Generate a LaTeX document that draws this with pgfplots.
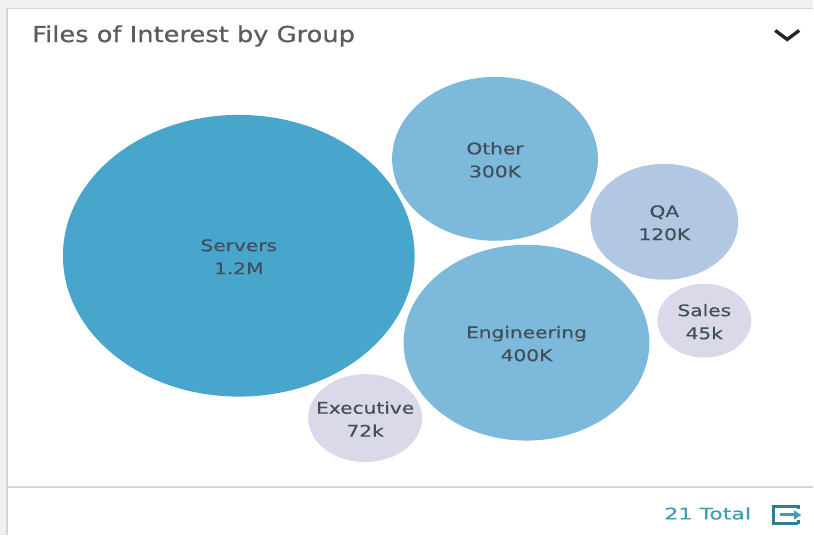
\documentclass[border=0pt]{standalone}
\usepackage{pgfplots}
\pgfplotsset{compat=1.18}
\usepackage{fontspec}
\setmainfont{DejaVu Sans}
\newfontfamily\wideface[FakeStretch=1.26,FakeBold=0.4]{DejaVu Sans}
\newfontfamily\footface[FakeStretch=1.38,FakeBold=0.4]{DejaVu Sans}
\newfontfamily\titleface[FakeStretch=1.17,FakeBold=0.55]{DejaVu Sans}
\definecolor{serversblue}{HTML}{48A5CC}
\definecolor{midblue}{HTML}{7CB9DA}
\definecolor{paleblue}{HTML}{B2C8E2}
\definecolor{lilac}{HTML}{DAD9EA}
\definecolor{labeltext}{HTML}{434E5C}
\definecolor{titletext}{HTML}{5A5C60}
\definecolor{teal}{HTML}{3D9DB5}
\definecolor{pagegrey}{HTML}{F1F1F1}
\definecolor{rulegrey}{HTML}{D4D4D4}
% an ellipse whose radii come from the current table row
\pgfdeclareplotmark{bubble}{%
  \pgfpathellipse{\pgfpointorigin}{\pgfqpoint{\rx pt}{0pt}}{\pgfqpoint{0pt}{\ry pt}}%
  \pgfusepathqfill}
\pgfplotsset{
  bubble/.style={
    only marks, mark=bubble, mark options={fill=#1, draw=none},
    point meta=explicit symbolic,
    visualization depends on={\thisrow{rx} \as \rx},
    visualization depends on={\thisrow{ry} \as \ry},
    nodes near coords,
    nodes near coords align={anchor=center},
    every node near coord/.append style={
      font=\wideface\fontsize{16}{23}\selectfont, text=labeltext,
      align=center, inner sep=0pt, yshift=-1pt},
  },
}
\pgfplotstableread[col sep=comma]{
x,y,rx,ry,label
239,256,176,141,{Servers\\1.2M}
}\serversdata
\pgfplotstableread[col sep=comma]{
x,y,rx,ry,label
495.5,159,103,82,{Other\\300K}
527,343,123,98,{Engineering\\400K}
}\middata
\pgfplotstableread[col sep=comma]{
x,y,rx,ry,label
665,222,74,58,{QA\\120K}
}\qadata
\pgfplotstableread[col sep=comma]{
x,y,rx,ry,label
705,321,47,37,{Sales\\45k}
365.5,418.5,57,44,{Executive\\72k}
}\smalldata
\begin{document}
\begin{tikzpicture}[x=1pt,y=1pt]
  % card background
  \fill[pagegrey] (0,0) rectangle (814,536);
  \fill[white] (7,0) rectangle (814,527);
  \draw[rulegrey,line width=1.6pt] (7,0) -- (7,527.5) -- (814,527.5);
  \draw[rulegrey,line width=1.2pt] (7,48.5) -- (814,48.5);
  \begin{axis}[
    at={(0,0)}, anchor=south west,
    scale only axis, width=814pt, height=536pt,
    xmin=0, xmax=814, ymin=0, ymax=536, y dir=reverse,
    axis lines=none, clip=false,
  ]
    \addplot[bubble=serversblue] table[x=x,y=y,meta=label] {\serversdata};
    \addplot[bubble=midblue] table[x=x,y=y,meta=label] {\middata};
    \addplot[bubble=paleblue] table[x=x,y=y,meta=label] {\qadata};
    \addplot[bubble=lilac] table[x=x,y=y,meta=label] {\smalldata};
  \end{axis}
  % header and footer furniture
  \node[anchor=west,inner sep=0pt,text=titletext,font=\titleface\fontsize{22}{25}\selectfont]
    at (32,500) {Files of Interest by Group};
  \draw[black!85,line width=3.4pt] (776,505.5) -- (788,496.5) -- (800,505.5);
  \node[anchor=east,inner sep=0pt,text=teal,font=\footface\fontsize{16}{18}\selectfont]
    at (752,22) {21 Total};
  \draw[teal!80!black,line width=3pt] (799,29) -- (774,29) -- (774,12) -- (799,12);
  \draw[teal!80!black,line width=2.8pt] (799,30) -- (799,26) (799,11) -- (799,15);
  \draw[teal,line width=3pt] (781,20.5) -- (796,20.5);
  \fill[teal] (802,20.5) -- (795,25) -- (795,16) -- cycle;
\end{tikzpicture}
\end{document}
